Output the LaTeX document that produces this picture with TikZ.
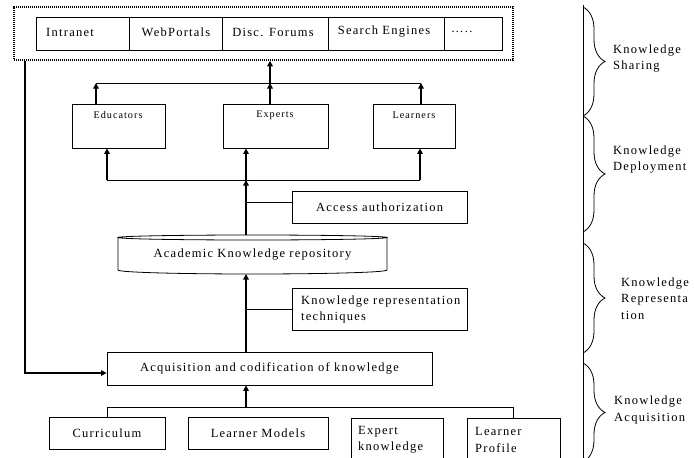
\documentclass[tikz,border=0pt]{standalone}
\usepackage{fontspec}
\setmainfont{Liberation Serif}[LetterSpace=10]
\usetikzlibrary{arrows.meta,decorations.pathreplacing}
\newcommand\mainfs{\fontsize{12.5}{16.5}\selectfont}
\newcommand\smallfs{\fontsize{10.2}{12}\selectfont}
\begin{document}
\begin{tikzpicture}[x=1pt,y=-1pt,
  bx/.style={draw, line width=0.8pt, inner sep=0pt},
  thk/.style={line width=1.9pt, -{Triangle[length=5.5pt,width=5.5pt]}},
  mid/.style={line width=1.4pt, -{Triangle[length=5.5pt,width=5.5pt]}},
  thn/.style={line width=0.8pt},
  tx/.style={font=\mainfs, inner sep=0pt},
  sx/.style={font=\smallfs, inner sep=0pt},
  outer/.style={draw, line width=1.5pt, dash pattern=on 1.4pt off 0.6pt, inner sep=0pt},
  brc/.style={decorate, decoration={brace, amplitude=22pt}, line width=0.8pt}
]
\useasboundingbox (0,0) rectangle (694,458);
\fill[white] (0,0) rectangle (694,458);

% ---------- knowledge sharing row ----------
\node[outer, minimum width=499pt, minimum height=53pt] (share) at (263.5,33.5) {};
\node[bx, minimum width=93pt, minimum height=33pt] (intra) at (82.5,33.5) {};
\node[bx, minimum width=93pt, minimum height=33pt] (webp) at (175.5,33.5) {};
\node[bx, minimum width=106pt, minimum height=33pt] (forum) at (275,33.5) {};
\node[bx, minimum width=116pt, minimum height=33pt] (search) at (386,33.5) {};
\node[bx, minimum width=58pt, minimum height=33pt] (more) at (473,33.5) {};
\draw[line width=1.5pt] (webp.north east) -- (webp.south east);
\node[tx, anchor=west] (tintra) at (46,32) {Intranet};
\node[tx] (twebp) at (176,32) {WebPortals};
\node[tx] (tforum) at (273,32) {Disc. Forums};
\node[tx] (tsearch) at (384,32) {Search Engines};
\node[tx, anchor=west] (tmore) at (451,32) {…..};

% ---------- deployment ----------
\node[bx, minimum width=93pt, minimum height=44pt] (educ) at (118.5,126) {};
\node[bx, minimum width=105pt, minimum height=44pt] (expt) at (275.5,126) {};
\node[bx, minimum width=82pt, minimum height=44pt] (lrn) at (414,126) {};
\node[sx] (teduc) at (118,115.5) {Educators};
\node[sx] (texpt) at (275,115.5) {Experts};
\node[sx] (tlrn) at (414,115.5) {Learners};

\coordinate (ubL) at (96,83);
\coordinate (ubM) at (270,83);
\coordinate (ubR) at (421,83);
\draw[thn] (ubL) -- (ubR);
\draw[thk] (ubL |- educ.north) -- (ubL);
\draw[thk] (ubM |- expt.north) -- (ubM);
\draw[thk] (ubR |- lrn.north) -- (ubR);
\draw[thk] (ubM) -- (ubM |- share.south);

\coordinate (lbL) at (107,180);
\coordinate (lbM) at (246,180);
\coordinate (lbR) at (420,180);
\draw[thn] (lbL) -- (lbR);
\draw[thk] (lbL) -- (lbL |- educ.south);
\draw[thk] (lbM) -- (lbM |- expt.south);
\draw[thk] (lbR) -- (lbR |- lrn.south);

\node[bx, minimum width=175pt, minimum height=32pt, font=\mainfs] (access) at (379.5,207) {Access authorization};
\coordinate (accj) at (246,202);
\draw[thn] (accj) -- (accj -| access.west);

% ---------- repository ----------
\node[tx, minimum width=269pt, minimum height=38pt] (repo) at (252.5,255) {Academic Knowledge repository};
\draw[line width=0.8pt] (252.5,237.5) ellipse [x radius=134.5, y radius=2.5];
\draw[line width=0.8pt] (118,237.5) -- (118,270) .. controls (118,272.5) and (185,274) .. (252.5,274)
  .. controls (320,274) and (387,272.5) .. (387,270) -- (387,237.5);
\draw[thk] (lbM |- 0,235) -- (lbM);

\node[bx, minimum width=175pt, minimum height=42pt] (krt) at (379.5,309) {};
\node[tx, anchor=west, align=left] (tkrt) at (301,309.5) {Knowledge representation\\techniques};
\coordinate (krtj) at (246,309);
\draw[thn] (krtj) -- (krtj -| krt.west);

% ---------- acquisition ----------
\node[bx, minimum width=325pt, minimum height=33pt, font=\mainfs] (acq) at (269.5,368.5) {Acquisition and codification of knowledge};
\draw[thk] (lbM |- acq.north) -- (lbM |- 0,274);

\coordinate (fb) at (25,373);
\draw[mid] (share.south -| fb) -- (fb) -- (fb -| acq.west);

\node[bx, minimum width=116pt, minimum height=32pt, font=\mainfs] (curr) at (107,433) {Curriculum};
\node[bx, minimum width=140pt, minimum height=32pt, font=\mainfs] (lmod) at (258,433) {Learner Models};
\node[bx, minimum width=92pt, minimum height=46pt] (expk) at (397,441) {};
\node[bx, minimum width=93pt, minimum height=46pt] (lprof) at (513.5,441) {};
\node[tx, anchor=west, align=left] (texpk) at (358,440) {Expert\\knowledge};
\node[tx, anchor=west, align=left] (tlprof) at (475,440) {Learner\\Profile};

\coordinate (bb) at (246,407);
\draw[thk] (bb) -- (acq.south -| bb);
\draw[thn] (curr.north) -- (curr.north |- bb) -- (lprof.north |- bb) -- (lprof.north);

% ---------- phases ----------
\coordinate (vt) at (583,5);
\coordinate (vb) at (583,460);
\draw[thn] (vt) -- (vb);
\coordinate (b1t) at (583,7);   \coordinate (b1b) at (583,116);
\coordinate (b2t) at (583,116); \coordinate (b2b) at (583,232);
\coordinate (b3t) at (583,243); \coordinate (b3b) at (583,353);
\coordinate (b4t) at (583,363); \coordinate (b4b) at (583,462);
\draw[brc] (b1t) -- (b1b);
\draw[brc] (b2t) -- (b2b);
\draw[brc] (b3t) -- (b3b);
\draw[brc] (b4t) -- (b4b);
\node[tx, anchor=west, align=left] (lsh) at (613,58.5) {Knowledge\\Sharing};
\node[tx, anchor=west, align=left] (ldp) at (613,159.5) {Knowledge\\Deployment};
\node[tx, anchor=west, align=left] (lrp) at (621,298.5) {Knowledge\\Representa\\tion};
\node[tx, anchor=west, align=left] (laq) at (614,410) {Knowledge\\Acquisition};
\end{tikzpicture}
\end{document}
